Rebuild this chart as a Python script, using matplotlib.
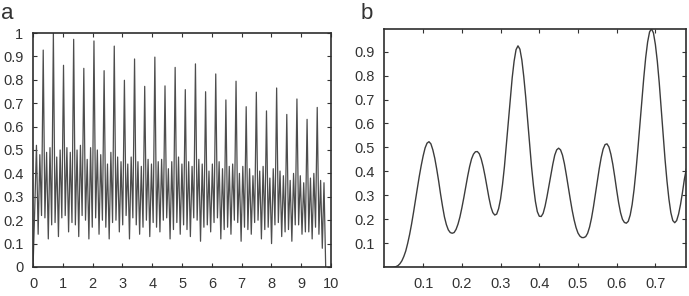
import numpy as np
import matplotlib
matplotlib.use("Agg")
import matplotlib.pyplot as plt

plt.rcParams["font.family"] = ["Liberation Sans", "DejaVu Sans"]

# --- panel a: extreme values of the signal ---
a_step = 0.05676  # time between successive extremes
tall_peaks = [0.927, 1.0, 0.862, 0.973, 0.849, 0.966, 0.839, 0.944, 0.798, 0.889,
              0.772, 0.897, 0.774, 0.853, 0.758, 0.868, 0.749, 0.825, 0.714, 0.794,
              0.685, 0.747, 0.667, 0.765, 0.652, 0.718, 0.631, 0.682]
small_peaks = [(0.52, 0.48), (0.49, 0.51), (0.47, 0.50), (0.51, 0.49), (0.50, 0.52),
               (0.46, 0.51), (0.50, 0.48), (0.44, 0.49), (0.47, 0.45), (0.44, 0.47),
               (0.45, 0.43), (0.46, 0.44), (0.45, 0.46), (0.42, 0.45), (0.47, 0.44),
               (0.45, 0.43), (0.46, 0.44), (0.41, 0.44), (0.45, 0.42), (0.43, 0.44),
               (0.40, 0.43), (0.42, 0.39), (0.41, 0.43), (0.38, 0.42), (0.41, 0.39),
               (0.37, 0.40), (0.39, 0.36), (0.38, 0.40), (0.37, 0.36)]
troughs = [(0.25, 0.14, 0.22), (0.21, 0.12, 0.18), (0.19, 0.13, 0.21), (0.22, 0.15, 0.19),
           (0.18, 0.13, 0.22), (0.20, 0.12, 0.17), (0.21, 0.14, 0.20), (0.17, 0.12, 0.19),
           (0.20, 0.15, 0.18), (0.22, 0.12, 0.21), (0.18, 0.14, 0.17), (0.20, 0.13, 0.19),
           (0.17, 0.15, 0.20), (0.21, 0.12, 0.16), (0.19, 0.14, 0.18), (0.16, 0.13, 0.21),
           (0.20, 0.11, 0.17), (0.18, 0.15, 0.19), (0.21, 0.12, 0.16), (0.17, 0.14, 0.20),
           (0.19, 0.11, 0.17), (0.16, 0.14, 0.19), (0.20, 0.12, 0.16), (0.17, 0.10, 0.18),
           (0.19, 0.13, 0.15), (0.16, 0.11, 0.18), (0.18, 0.14, 0.15), (0.15, 0.12, 0.17),
           (0.14, 0.08, 0.0)]
a_xticks = list(range(11))
a_yticks = [0, 0.1, 0.2, 0.3, 0.4, 0.5, 0.6, 0.7, 0.8, 0.9, 1]
a_yticklabels = ["0", "0.1", "0.2", "0.3", "0.4", "0.5", "0.6", "0.7", "0.8", "0.9", "1"]

# --- panel b: zoom on the start, sampled every 0.005 ---
b_step = 0.005
b_values = [
    0.0, 0.0, 0.0, 0.0, 0.0, 0.001, 0.003, 0.007, 0.015, 0.027,
    0.045, 0.068, 0.10, 0.137, 0.18, 0.228, 0.28, 0.33, 0.38, 0.425,
    0.465, 0.498, 0.518, 0.524, 0.515, 0.49, 0.455, 0.41, 0.36, 0.305,
    0.255, 0.21, 0.178, 0.156, 0.145, 0.142, 0.145, 0.158, 0.18, 0.21,
    0.248, 0.29, 0.335, 0.38, 0.42, 0.452, 0.472, 0.482, 0.483, 0.474,
    0.452, 0.42, 0.38, 0.335, 0.29, 0.252, 0.228, 0.218, 0.222, 0.245,
    0.285, 0.345, 0.42, 0.51, 0.605, 0.70, 0.79, 0.86, 0.908, 0.924,
    0.91, 0.865, 0.795, 0.71, 0.615, 0.515, 0.42, 0.34, 0.275, 0.232,
    0.213, 0.212, 0.225, 0.255, 0.295, 0.34, 0.385, 0.43, 0.468, 0.49,
    0.497, 0.49, 0.468, 0.432, 0.385, 0.335, 0.285, 0.238, 0.198, 0.166,
    0.143, 0.13, 0.124, 0.124, 0.128, 0.142, 0.168, 0.205, 0.252, 0.305,
    0.36, 0.412, 0.458, 0.493, 0.512, 0.515, 0.502, 0.472, 0.43, 0.378,
    0.322, 0.27, 0.228, 0.2, 0.187, 0.184, 0.192, 0.218, 0.262, 0.325,
    0.405, 0.497, 0.595, 0.695, 0.79, 0.875, 0.94, 0.982, 0.995, 0.978,
    0.93, 0.86, 0.77, 0.665, 0.555, 0.45, 0.36, 0.285, 0.228, 0.195,
    0.186, 0.195, 0.222, 0.262, 0.312, 0.368, 0.41,
]
b_xticks = [0.1, 0.2, 0.3, 0.4, 0.5, 0.6, 0.7]
b_yticks = [0.1, 0.2, 0.3, 0.4, 0.5, 0.6, 0.7, 0.8, 0.9]

# build the panel a series: start, then per period trough/small/trough/small/trough/tall
sig = [0.0]
for k in range(len(small_peaks)):
    t1, t2, t3 = troughs[k]
    p1, p2 = small_peaks[k]
    sig += [t1, p1, t2, p2, t3]
    if k < len(tall_peaks):
        sig.append(tall_peaks[k])
sig = np.array(sig)
xa = np.arange(len(sig)) * a_step

b_values = np.array(b_values)
xb = np.arange(len(b_values)) * b_step

text_col = "#333333"

fig = plt.figure(figsize=(6.89, 2.96), dpi=100)
ax1 = fig.add_axes([0.048, 0.098, 0.4325, 0.7905])
ax2 = fig.add_axes([0.558, 0.097, 0.437, 0.804])

ax1.plot(xa, sig, color="#4d4d4d", lw=0.9)
ax1.set_xlim(0, 10)
ax1.set_ylim(0, 1)
ax1.set_xticks(a_xticks)
ax1.set_yticks(a_yticks)
ax1.set_yticklabels(a_yticklabels)

ax2.plot(xb, b_values, color="#3c3c3c", lw=1.0)
ax2.set_xlim(0, 0.778)
ax2.set_ylim(0, 0.993)
ax2.set_xticks(b_xticks)
ax2.set_yticks(b_yticks)
ax2.set_xticklabels([f"{v:g}" for v in b_xticks])
ax2.set_yticklabels([f"{v:g}" for v in b_yticks])

for ax in (ax1, ax2):
    ax.tick_params(direction="in", length=3, width=0.8, top=True, right=True,
                   labelsize=10.5, colors=text_col, pad=7)
    for s in ax.spines.values():
        s.set_color("#2e2e2e")
        s.set_linewidth(1.2)

fig.text(0.002, 1 - 19 / 296, "a", fontsize=16, color=text_col)
fig.text(0.524, 1 - 19 / 296, "b", fontsize=16, color=text_col)

fig.savefig("out.png", dpi=100)
